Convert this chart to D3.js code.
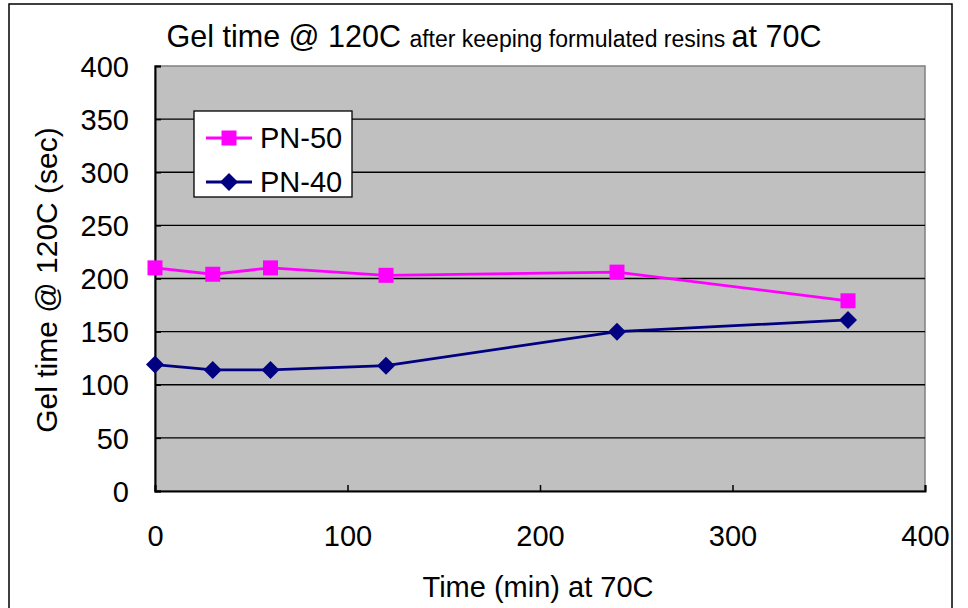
<!DOCTYPE html>
<html><head><meta charset="utf-8">
<script src="https://cdn.jsdelivr.net/npm/d3@7"></script>
<style>body{margin:0;background:#fff}svg{display:block}text{font-family:"Liberation Sans",Arial,sans-serif;fill:#000}</style>
</head><body>
<script>
const times = [0, 30, 60, 120, 240, 360];
const pn50 = [210, 204, 210, 203, 206, 179];
const pn40 = [119, 114, 114, 118, 150, 161];
const seriesNames = ["PN-50", "PN-40"];
const xTicks = [0, 100, 200, 300, 400];
const yTicks = [0, 50, 100, 150, 200, 250, 300, 350, 400];

const W = 968, H = 608;
const svg = d3.select("body").append("svg").attr("width", W).attr("height", H);
const L = 155, R = 925, T = 66, B = 491;
const x = d3.scaleLinear().domain([0, 400]).range([L, R]);
const y = d3.scaleLinear().domain([0, 400]).range([B, T]);
const FS = 29;

// outer border
svg.append("rect").attr("x", 9).attr("y", 4).attr("width", 943).attr("height", 620)
  .attr("fill", "none").attr("stroke", "#000").attr("stroke-width", 1.5);

// plot area
svg.append("rect").attr("x", L).attr("y", T).attr("width", R - L).attr("height", B - T)
  .attr("fill", "#C0C0C0").attr("stroke", "#808080").attr("stroke-width", 1.5);

// gridlines
svg.append("g").selectAll("line").data(yTicks.filter(d => d > 0 && d < 400)).join("line")
  .attr("x1", L).attr("x2", R).attr("y1", d => y(d)).attr("y2", d => y(d))
  .attr("stroke", "#000").attr("stroke-width", 1.3);

// axes
const yAxis = d3.axisLeft(y).tickValues(yTicks).tickSize(-6).tickPadding(26).tickFormat(d3.format("d"));
const gy = svg.append("g").attr("transform", `translate(${L},0)`).call(yAxis);
const xAxis = d3.axisBottom(x).tickValues(xTicks).tickSize(-6).tickPadding(34).tickFormat(d3.format("d"));
const gx = svg.append("g").attr("transform", `translate(0,${B})`).call(xAxis);
[gx, gy].forEach(g => {
  g.select(".domain").attr("stroke", "#000").attr("stroke-width", 2);
  g.selectAll(".tick line").attr("stroke", "#000").attr("stroke-width", 1.5);
  g.selectAll(".tick text").attr("font-size", FS).attr("font-family", "Liberation Sans, Arial, sans-serif");
});
gy.selectAll(".tick text").attr("dy", "0.35em");

// lines
const line = d3.line().x((d, i) => x(times[i])).y(d => y(d));
const colors = ["#FF00FF", "#000080"];
[pn50, pn40].forEach((s, k) => {
  svg.append("path").datum(s).attr("d", line).attr("fill", "none")
    .attr("stroke", colors[k]).attr("stroke-width", 2.8);
});
// markers
const sq = 15, dm = 9;
svg.append("g").selectAll("rect").data(pn50).join("rect")
  .attr("x", (d, i) => x(times[i]) - sq / 2).attr("y", d => y(d) - sq / 2)
  .attr("width", sq).attr("height", sq).attr("fill", "#FF00FF");
svg.append("g").selectAll("path").data(pn40).join("path")
  .attr("d", (d, i) => { const cx = x(times[i]), cy = y(d); return `M${cx},${cy-dm}L${cx+dm},${cy}L${cx},${cy+dm}L${cx-dm},${cy}Z`; })
  .attr("fill", "#000080");

// legend
const lg = svg.append("g");
lg.append("rect").attr("x", 194).attr("y", 111).attr("width", 158).attr("height", 86)
  .attr("fill", "#fff").attr("stroke", "#000").attr("stroke-width", 1.3);
seriesNames.forEach((n, k) => {
  const ly = 138 + k * 44;
  lg.append("line").attr("x1", 206).attr("x2", 252).attr("y1", ly).attr("y2", ly)
    .attr("stroke", colors[k]).attr("stroke-width", 2.8);
  if (k === 0) lg.append("rect").attr("x", 229 - 7.5).attr("y", ly - 7.5).attr("width", 15).attr("height", 15).attr("fill", colors[k]);
  else lg.append("path").attr("d", `M229,${ly-9}L238,${ly}L229,${ly+9}L220,${ly}Z`).attr("fill", colors[k]);
  lg.append("text").attr("x", 260).attr("y", ly).attr("dy", "0.36em").attr("font-size", FS).text(n);
});

// title
const t = svg.append("text").attr("x", 494).attr("y", 47).attr("text-anchor", "middle").attr("font-size", 30.5);
t.append("tspan").text("Gel time @ 120C ");
t.append("tspan").attr("font-size", 23).text("after keeping formulated resins ");
t.append("tspan").text("at 70C");

// axis titles
svg.append("text").attr("x", 538).attr("y", 597).attr("text-anchor", "middle").attr("font-size", FS).text("Time (min) at 70C");
svg.append("text").attr("transform", "translate(57,280) rotate(-90)").attr("text-anchor", "middle").attr("font-size", 30).text("Gel time @ 120C (sec)");
</script>
</body></html>
